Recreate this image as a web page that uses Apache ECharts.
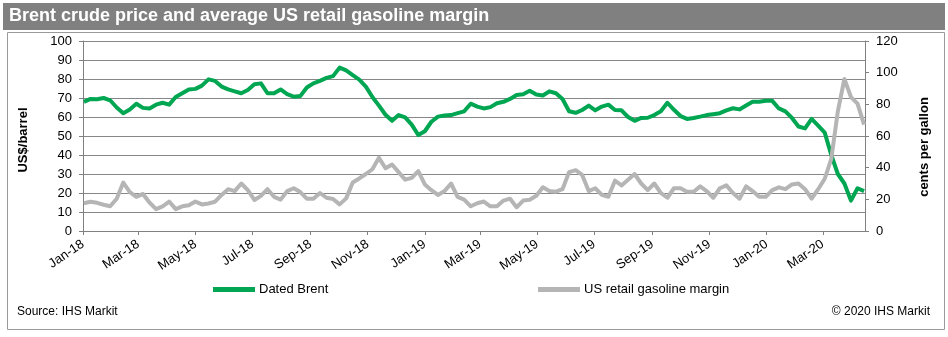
<!DOCTYPE html>
<html>
<head>
<meta charset="utf-8">
<title>Brent crude price and average US retail gasoline margin</title>
<script src="https://cdn.jsdelivr.net/npm/echarts@6/dist/echarts.min.js"></script>
<style>
  html, body { margin: 0; padding: 0; background: #ffffff; }
  #chart { width: 948px; height: 337px; }
</style>
</head>
<body>
<div id="chart"></div>
<script>
// Weekly observation dates
const weekDates = [
  '2018-01-02','2018-01-09','2018-01-16','2018-01-23','2018-01-30',
  '2018-02-06','2018-02-13','2018-02-20','2018-02-27',
  '2018-03-06','2018-03-13','2018-03-20','2018-03-27',
  '2018-04-03','2018-04-10','2018-04-17','2018-04-24',
  '2018-05-01','2018-05-08','2018-05-15','2018-05-22','2018-05-29',
  '2018-06-05','2018-06-12','2018-06-19','2018-06-26',
  '2018-07-03','2018-07-10','2018-07-17','2018-07-24','2018-07-31',
  '2018-08-07','2018-08-14','2018-08-21','2018-08-28',
  '2018-09-04','2018-09-11','2018-09-18','2018-09-25',
  '2018-10-02','2018-10-09','2018-10-16','2018-10-23','2018-10-30',
  '2018-11-06','2018-11-13','2018-11-20','2018-11-27',
  '2018-12-04','2018-12-11','2018-12-18','2018-12-25',
  '2019-01-01','2019-01-08','2019-01-15','2019-01-22','2019-01-29',
  '2019-02-05','2019-02-12','2019-02-19','2019-02-26',
  '2019-03-05','2019-03-12','2019-03-19','2019-03-26',
  '2019-04-02','2019-04-09','2019-04-16','2019-04-23','2019-04-30',
  '2019-05-07','2019-05-14','2019-05-21','2019-05-28',
  '2019-06-04','2019-06-11','2019-06-18','2019-06-25',
  '2019-07-02','2019-07-09','2019-07-16','2019-07-23','2019-07-30',
  '2019-08-06','2019-08-13','2019-08-20','2019-08-27',
  '2019-09-03','2019-09-10','2019-09-17','2019-09-24',
  '2019-10-01','2019-10-08','2019-10-15','2019-10-22','2019-10-29',
  '2019-11-05','2019-11-12','2019-11-19','2019-11-26',
  '2019-12-03','2019-12-10','2019-12-17','2019-12-24','2019-12-31',
  '2020-01-07','2020-01-14','2020-01-21','2020-01-28',
  '2020-02-04','2020-02-11','2020-02-18','2020-02-25',
  '2020-03-03','2020-03-10','2020-03-17','2020-03-24','2020-03-31',
  '2020-04-07','2020-04-14'
];

// Dated Brent, US$/barrel
const datedBrent = [
  68, 69.5, 69.3, 70, 68.8,
  65, 62, 64, 67,
  64.8, 64.5, 66.5, 67.5,
  66.5, 70.5, 72.5, 74.5,
  74.8, 76.5, 79.8, 79, 76,
  74.5, 73.5, 72.5, 74.2,
  77.2, 77.7, 72.5, 72.5, 74.5,
  72, 70.7, 71, 75.5,
  77.7, 79, 80.6, 81.5,
  86, 84.5, 82, 79.7, 76,
  70.5, 66, 61.2, 58,
  61, 59.8, 56, 50.5,
  52.5, 57.5, 60.2, 60.8, 61,
  62, 63, 67, 65.5,
  64.5, 65.2, 67.2, 68,
  69.5, 71.6, 72, 73.8, 71.8,
  71.3, 73.5, 72.5, 69.5,
  63, 62.2, 63.7, 66,
  63.5, 65.5, 66.5, 63.7, 63.5,
  60, 58, 59.5, 59.6,
  61, 63, 67.5, 63.8,
  60.5, 59, 59.5, 60.2, 61,
  61.5, 62, 63.5, 64.6,
  64, 66, 68, 68, 68.5,
  68.5, 64.5, 63, 59.5,
  55, 54, 59, 55.5,
  51.8, 40, 30, 25, 16,
  22.5, 21
];

// US retail gasoline margin, cents per gallon
const gasolineMargin = [
  17.5, 18.5, 17.8, 16.6, 15.6,
  20.4, 30.6, 24.6, 21.6,
  23.4, 18, 13.8, 15.6,
  18.6, 13.8, 15.6, 16.2,
  18.6, 16.8, 17.4, 18.5, 22.8,
  26.4, 25.2, 30, 25.8,
  19.6, 22.2, 26.4, 21.6, 19.8,
  25.2, 27, 24.6, 20.4,
  20.4, 24, 21, 20.2,
  16.8, 20.6, 30.6, 33.2, 36,
  39, 46.2, 39.6, 42,
  37.2, 32.4, 33.6, 37.8,
  29.4, 25.8, 22.8, 25.2, 30,
  21.6, 19.8, 15.6, 17.5,
  18.6, 15.6, 15.6, 19.2,
  20.4, 15, 19.2, 19.8, 22.2,
  27.6, 25.2, 24.8, 26.4,
  37.2, 38.4, 35.4, 25.2,
  27, 22.8, 21.6, 31.8, 28.8,
  32.4, 36, 30, 25.8,
  30, 24, 21, 27,
  27, 24.8, 24.8, 28.2, 25.2,
  21, 27, 28.8, 24,
  20.4, 28.2, 25.2, 21.6, 21.6,
  25.8, 27.6, 26.4, 29.4,
  30, 26.4, 20.4, 26.4,
  33, 45.6, 75.6, 96, 84.6,
  80.4, 67.2
];

// Bimonthly x-axis ticks
const tickDates = [
  '2018-01-01','2018-03-01','2018-05-01','2018-07-01','2018-09-01','2018-11-01',
  '2019-01-01','2019-03-01','2019-05-01','2019-07-01','2019-09-01','2019-11-01',
  '2020-01-01','2020-03-01'
];
const tickLabels = [
  'Jan-18','Mar-18','May-18','Jul-18','Sep-18','Nov-18',
  'Jan-19','Mar-19','May-19','Jul-19','Sep-19','Nov-19',
  'Jan-20','Mar-20'
];

const seriesNames = ['Dated Brent', 'US retail gasoline margin'];

// Dates are placed on a linear axis measured in UTC milliseconds
function toTime(s) { return Date.parse(s + 'T00:00:00Z'); }
const tickTimes = tickDates.map(toTime);

const FONT = "'Liberation Sans', Arial, sans-serif";
const GREEN = '#00a651';
const GREY = '#b5b5b5';

const chart = echarts.init(document.getElementById('chart'), null, { renderer: 'canvas' });

chart.setOption({
  animation: false,
  backgroundColor: '#ffffff',
  textStyle: { fontFamily: FONT },
  grid: { left: 83, right: 83, top: 41, bottom: 106, containLabel: false },
  graphic: [
    { type: 'rect', left: 3, top: 3, shape: { width: 942, height: 27 },
      style: { fill: '#808080' }, z: 0 },
    { type: 'text', left: 9, top: 7,
      style: { text: 'Brent crude price and average US retail gasoline margin',
               fill: '#ffffff', font: "bold 18px 'Liberation Sans', Arial, sans-serif" } },
    { type: 'rect', left: 5, top: 30, shape: { width: 937, height: 297 },
      style: { fill: 'none', stroke: '#9a9a9a', lineWidth: 1 }, z: 0 },
    { type: 'text', left: 17, top: 306,
      style: { text: 'Source: IHS Markit', fill: '#000000',
               font: "12px 'Liberation Sans', Arial, sans-serif" } },
    { type: 'text', right: 18, top: 306,
      style: { text: '\u00a9 2020 IHS Markit', fill: '#000000',
               font: "12px 'Liberation Sans', Arial, sans-serif" } }
  ],
  legend: [
    { data: [seriesNames[0]], left: 213, top: 283, padding: 0, icon: 'rect',
      itemWidth: 42, itemHeight: 5, itemGap: 4,
      textStyle: { fontFamily: FONT, fontSize: 13, color: '#000000', padding: [0, 0, 0, -1] } },
    { data: [seriesNames[1]], left: 538, top: 283, padding: 0, icon: 'rect',
      itemWidth: 42, itemHeight: 5, itemGap: 4,
      textStyle: { fontFamily: FONT, fontSize: 13, color: '#000000', padding: [0, 0, 0, -1] } }
  ],
  xAxis: {
    type: 'value',
    min: toTime('2018-01-01'),
    max: toTime('2020-04-15'),
    axisLine: { show: true, onZero: false, lineStyle: { color: '#808080', width: 1 } },
    axisTick: { show: true, customValues: tickTimes, length: 4,
                lineStyle: { color: '#808080' } },
    axisLabel: {
      customValues: tickTimes,
      rotate: 34,
      fontFamily: FONT, fontSize: 13, color: '#000000', margin: 12,
      formatter: function (v) {
        for (let i = 0; i < tickTimes.length; i++) {
          if (Math.abs(tickTimes[i] - v) < 43200000) return tickLabels[i];
        }
        return '';
      }
    },
    splitLine: { show: false }
  },
  yAxis: [
    {
      type: 'value', min: 0, max: 100, interval: 10, position: 'left',
      name: 'US$/barrel', nameLocation: 'middle', nameRotate: 90, nameGap: 53,
      nameTextStyle: { fontFamily: FONT, fontSize: 13, fontWeight: 'bold', color: '#000000',
                       padding: [0, 8, 0, 0] },
      axisLine: { show: true, lineStyle: { color: '#808080' } },
      axisTick: { show: true, length: 4, lineStyle: { color: '#808080' } },
      axisLabel: { fontFamily: FONT, fontSize: 13, color: '#000000', margin: 11 },
      splitLine: { show: true, lineStyle: { color: '#878787', width: 1 } }
    },
    {
      type: 'value', min: 0, max: 120, interval: 20, position: 'right',
      name: 'cents per gallon', nameLocation: 'middle', nameRotate: 90, nameGap: 53,
      nameTextStyle: { fontFamily: FONT, fontSize: 13, fontWeight: 'bold', color: '#000000',
                       padding: [0, 22, 0, 0] },
      axisLine: { show: true, lineStyle: { color: '#808080' } },
      axisTick: { show: true, length: 4, lineStyle: { color: '#808080' } },
      axisLabel: { fontFamily: FONT, fontSize: 13, color: '#000000', margin: 11 },
      splitLine: { show: false }
    }
  ],
  series: [
    {
      name: seriesNames[0], type: 'line', yAxisIndex: 0,
      data: weekDates.map((d, i) => [toTime(d), datedBrent[i]]),
      showSymbol: false, symbol: 'none',
      itemStyle: { color: GREEN },
      lineStyle: { color: GREEN, width: 4, join: 'round' },
      z: 2
    },
    {
      name: seriesNames[1], type: 'line', yAxisIndex: 1,
      data: weekDates.map((d, i) => [toTime(d), gasolineMargin[i]]),
      showSymbol: false, symbol: 'none',
      itemStyle: { color: GREY },
      lineStyle: { color: GREY, width: 4, join: 'round' },
      z: 3
    }
  ]
});
</script>
</body>
</html>
